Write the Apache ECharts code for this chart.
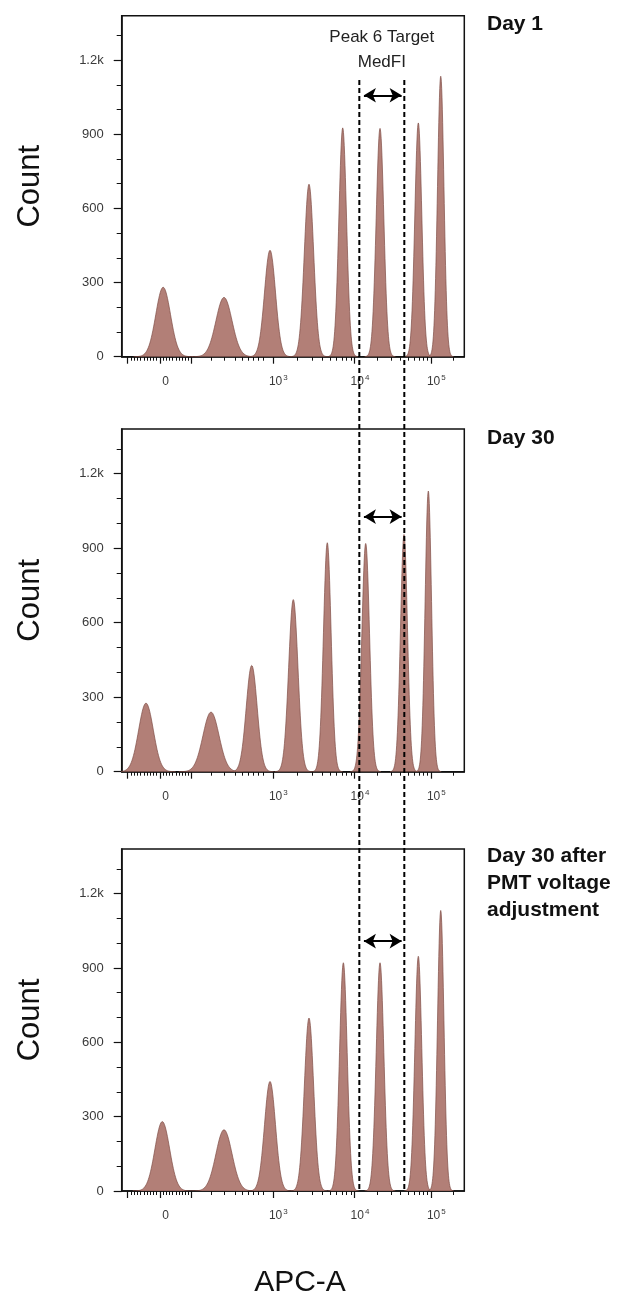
<!DOCTYPE html>
<html><head><meta charset="utf-8">
<script src="https://cdn.jsdelivr.net/npm/echarts@6/dist/echarts.min.js"></script>
<style>html,body{margin:0;padding:0;background:#fff}#c{width:629px;height:1297px}</style>
</head><body><div id="c"></div>
<script>
// ---- data (x in display channels of the biexponential APC-A axis, 0..1000) ----
const PANEL_TITLES = ['Day 1', 'Day 30', 'Day 30 after\nPMT voltage\nadjustment'];
const PEAK_CENTERS_DAY1 = [121, 298.6, 432.9, 546.7, 645.1, 754.0, 865.8, 931.2];
const PEAK_COUNTS_DAY1  = [281, 240, 431, 698, 926, 924, 946, 1135];
const PEAK_CENTERS_DAY30 = [70.9, 260.7, 379.5, 500.9, 600.1, 712.2, 824.0, 895.0];
const PEAK_COUNTS_DAY30  = [276, 240, 428, 693, 922, 919, 955, 1130];
const PEAK_CENTERS_ADJ = [118.5, 298.6, 432.9, 546.7, 647.0, 754.0, 865.8, 931.2];
const PEAK_COUNTS_ADJ  = [280, 247, 442, 698, 921, 921, 947, 1132];
const PEAK_SIGMA = [21.5, 23.5, 16, 13.6, 11.2, 11.2, 10.2, 9.4];

const X_MAJOR_TICKS = [17, 111.8, 203.7, 441, 679.5, 902.2];
const X_LABEL_TICKS = [111.8, 441, 679.5, 902.2];
const X_LABEL_BASE = ['0', '10', '10', '10'];
const X_LABEL_EXP  = ['', '3', '4', '5'];
const X_MINOR_TICKS = [26.5, 36, 45.4, 54.9, 64.4, 73.9, 83.3, 92.8, 102.3,
  121, 130.2, 139.4, 148.6, 157.8, 167, 176.1, 185.3, 194.5,
  262, 300, 330, 352, 369, 384, 398, 412,
  512.8, 554.8, 584.6, 607.7, 626.6, 642.6, 656.4, 668.6,
  746.5, 785.8, 813.6, 835.2, 852.8, 867.7, 880.6, 892.0, 969.2];
const Y_TICKS = [0, 300, 600, 900, 1200];
const Y_TICK_LABELS = ['0', '300', '600', '900', '1.2k'];
const Y_MINOR_TICKS = [100, 200, 400, 500, 700, 800, 1000, 1100, 1300];

const TARGET_LINES_X = [693.6, 824.9];
const ARROW_X = [707, 817];
const ARROW_COUNT = [1058, 1027, 1008];
const ANNOT_TEXT = ['Peak 6 Target', 'MedFI'];
const ANNOT_COUNT = [1294, 1193];

// ---- layout / style ----
const GRID_TOPS = [15.7, 429, 849];
const GRID_HEIGHTS = [341, 342.7, 342];
const GRID_LEFT = 121.7, GRID_WIDTH = 342.6;
const FILL = '#b27f77', EDGE = '#7f4d46', INK = '#111';
const FONT = '"Liberation Sans", Arial, Helvetica, sans-serif';

const panels = [
  [PEAK_CENTERS_DAY1, PEAK_COUNTS_DAY1],
  [PEAK_CENTERS_DAY30, PEAK_COUNTS_DAY30],
  [PEAK_CENTERS_ADJ, PEAK_COUNTS_ADJ]
];

function renderPeak(params, api) {
  const c = api.value(0), h = api.value(1), s = api.value(2);
  const pts = [];
  const N = 80;
  for (let i = 0; i <= N; i++) {
    const t = -4 * s + 8 * s * i / N;
    pts.push(api.coord([c + t, h * Math.exp(-t * t / (2 * s * s))]));
  }
  return { type: 'polygon', shape: { points: pts },
    style: { fill: FILL, stroke: EDGE, lineWidth: 0.7 } };
}

const chart = echarts.init(document.getElementById('c'), null, { renderer: 'canvas' });
const grid = [], xAxis = [], yAxis = [], series = [], title = [];

panels.forEach((p, i) => {
  grid.push({ left: GRID_LEFT, width: GRID_WIDTH, top: GRID_TOPS[i], height: GRID_HEIGHTS[i],
    show: true, borderColor: INK, borderWidth: 1.5, backgroundColor: 'transparent' });
  // major x axis
  xAxis.push({ type: 'value', gridIndex: i, min: 0, max: 1000, position: 'bottom',
    axisLine: { show: true, onZero: false, lineStyle: { color: INK, width: 1.5 } },
    axisTick: { show: true, customValues: X_MAJOR_TICKS, length: 7, lineStyle: { color: INK, width: 1.2 } },
    splitLine: { show: false },
    axisLabel: { show: true, customValues: X_LABEL_TICKS, margin: 17, padding: [0, 0, 0, 11],
      formatter: (v) => {
        const k = X_LABEL_TICKS.indexOf(v);
        if (k < 0) return '';
        return X_LABEL_EXP[k] ? '{b|' + X_LABEL_BASE[k] + '}{s|' + X_LABEL_EXP[k] + '}' : '{b|' + X_LABEL_BASE[k] + '}';
      },
      rich: {
        b: { fontSize: 12, fontFamily: FONT, color: '#3a3a3a', lineHeight: 14, verticalAlign: 'bottom' },
        s: { fontSize: 8, fontFamily: FONT, color: '#3a3a3a', lineHeight: 14, verticalAlign: 'top', padding: [0, 0, 0, 1] }
      } } });
  // minor x axis
  xAxis.push({ type: 'value', gridIndex: i, min: 0, max: 1000, position: 'bottom',
    axisLine: { show: false }, splitLine: { show: false }, axisLabel: { show: false },
    axisTick: { show: true, customValues: X_MINOR_TICKS, length: 4, lineStyle: { color: INK, width: 1 } } });
  // major y axis
  yAxis.push({ type: 'value', gridIndex: i, min: 0, max: 1380, position: 'left',
    name: 'Count', nameLocation: 'middle', nameGap: 76,
    nameTextStyle: { fontSize: 31, fontFamily: FONT, color: INK },
    axisLine: { show: true, lineStyle: { color: INK, width: 1.5 } },
    axisTick: { show: true, customValues: Y_TICKS, length: 8, lineStyle: { color: INK, width: 1.2 } },
    splitLine: { show: false },
    axisLabel: { customValues: Y_TICKS, margin: 18, fontSize: 13, fontFamily: FONT, color: '#3a3a3a',
      formatter: (v) => { const k = Y_TICKS.indexOf(v); return k < 0 ? '' : Y_TICK_LABELS[k]; } } });
  // minor y axis
  yAxis.push({ type: 'value', gridIndex: i, min: 0, max: 1380, position: 'left',
    axisLine: { show: false }, splitLine: { show: false }, axisLabel: { show: false },
    axisTick: { show: true, customValues: Y_MINOR_TICKS, length: 5, lineStyle: { color: INK, width: 1 } } });

  const data = p[0].map((c, k) => [c, p[1][k], PEAK_SIGMA[k]]);
  series.push({ type: 'custom', xAxisIndex: 2 * i, yAxisIndex: 2 * i, renderItem: renderPeak,
    data: data, silent: true, animation: false, clip: true,
    markLine: { silent: true, animation: false, symbol: ['arrow', 'arrow'], symbolSize: [11, 12],
      label: { show: false }, lineStyle: { color: '#000', width: 2, type: 'solid' },
      emphasis: { disabled: true },
      data: [[{ coord: [ARROW_X[0], ARROW_COUNT[i]] }, { coord: [ARROW_X[1], ARROW_COUNT[i]] }]] } });

  title.push({ text: PANEL_TITLES[i], left: 487, top: [11, 425, 843][i], padding: 0,
    textStyle: { fontSize: 21, fontWeight: 'bold', fontFamily: FONT, color: INK, lineHeight: 27 } });
});

chart.setOption({ animation: false, backgroundColor: '#fff', title, grid, xAxis, yAxis, series });

// dashed target lines spanning all three panels, annotation, shared x-axis title
const graphic = [];
TARGET_LINES_X.forEach((x) => {
  const top = chart.convertToPixel({ gridIndex: 0 }, [x, 1120]);
  const bot = chart.convertToPixel({ gridIndex: 2 }, [x, 0]);
  graphic.push({ type: 'line', z: 100, silent: true,
    shape: { x1: top[0], y1: top[1], x2: bot[0], y2: bot[1] },
    style: { stroke: '#000', lineWidth: 2, lineDash: [5, 3] } });
});
const midX = (TARGET_LINES_X[0] + TARGET_LINES_X[1]) / 2;
ANNOT_TEXT.forEach((t, k) => {
  const pt = chart.convertToPixel({ gridIndex: 0 }, [midX, ANNOT_COUNT[k]]);
  graphic.push({ type: 'text', z: 100, silent: true, x: pt[0], y: pt[1],
    style: { text: t, fontSize: 17, fontFamily: FONT, fill: '#222', align: 'center', verticalAlign: 'middle' } });
});
graphic.push({ type: 'text', z: 100, silent: true, x: 300, y: 1283,
  style: { text: 'APC-A', fontSize: 30, fontFamily: FONT, fill: INK, align: 'center', verticalAlign: 'middle' } });
chart.setOption({ graphic });
</script>
</body></html>
